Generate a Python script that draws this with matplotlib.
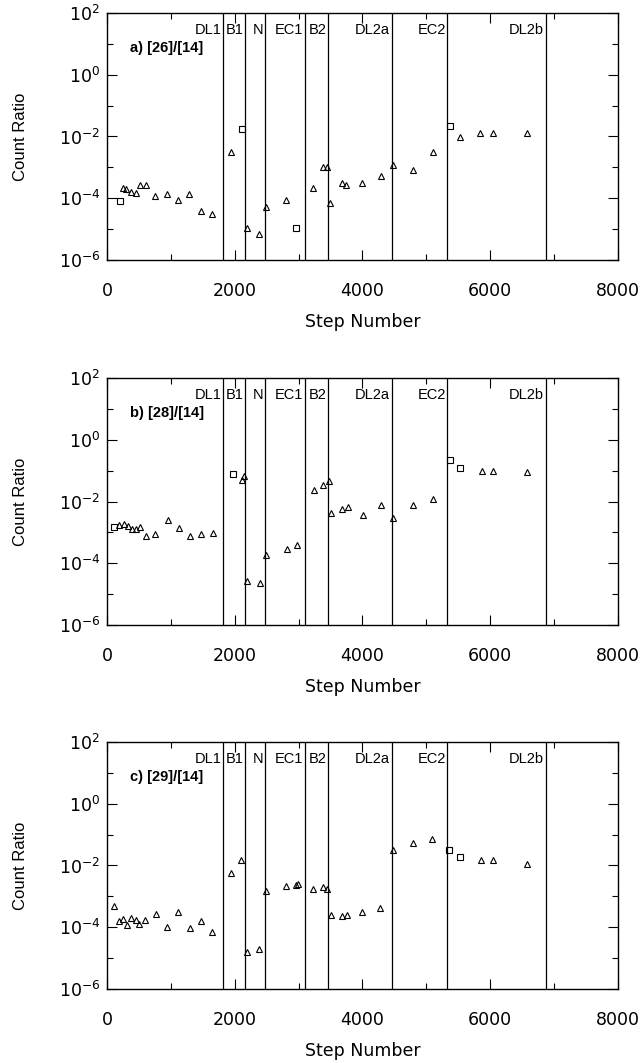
import numpy as np
import matplotlib.pyplot as plt
from matplotlib.ticker import FixedLocator, NullFormatter, LogFormatterSciNotation

# run segments and the step number where each one ends
regions = ["DL1", "B1", "N", "EC1", "B2", "DL2a", "EC2", "DL2b"]
bounds = [1820, 2160, 2470, 3095, 3465, 4455, 5330, 6870]

# a) [26]/[14]
a_tri_x = [250, 303, 381, 449, 511, 605, 756, 944, 1111, 1283, 1466, 1648,
           1946, 2186, 2384, 2483, 2801, 3229, 3375, 3448, 3495, 3678, 3745,
           3996, 4283, 4481, 4784, 5097, 5519, 5837, 6046, 6568]
a_tri_y = [2.1e-4, 1.95e-4, 1.6e-4, 1.45e-4, 2.6e-4, 2.6e-4, 1.15e-4, 1.4e-4,
           8.5e-5, 1.4e-4, 3.8e-5, 3.2e-5, 3.2e-3, 1.07e-5, 7.2e-6, 5.1e-5,
           8.9e-5, 2.1e-4, 1.05e-3, 1.05e-3, 7.2e-5, 3.2e-4, 2.7e-4, 3.1e-4,
           5.1e-4, 1.17e-3, 8.5e-4, 3.2e-3, 9.3e-3, 1.3e-2, 1.3e-2, 1.26e-2]
a_sq_x = [198, 2113, 2953, 5368]
a_sq_y = [8.1e-5, 1.7e-2, 1.07e-5, 2.2e-2]

# b) [28]/[14]
b_tri_x = [188, 266, 329, 392, 450, 512, 606, 758, 956, 1129, 1296, 1479, 1652,
           2107, 2147, 2194, 2393, 2483, 2812, 2973, 3240, 3386, 3470, 3511,
           3679, 3768, 4013, 4285, 4483, 4796, 5100, 5868, 6050, 6574]
b_tri_y = [1.7e-3, 1.86e-3, 1.6e-3, 1.3e-3, 1.3e-3, 1.5e-3, 7.6e-4, 8.7e-4,
           2.6e-3, 1.35e-3, 7.9e-4, 8.9e-4, 9.5e-4, 5.0e-2, 6.9e-2, 2.75e-5,
           2.3e-5, 1.8e-4, 3.0e-4, 4.0e-4, 2.4e-2, 3.4e-2, 4.6e-2, 4.4e-3,
           5.6e-3, 6.6e-3, 3.7e-3, 7.8e-3, 2.9e-3, 7.9e-3, 1.17e-2, 9.5e-2,
           9.5e-2, 8.9e-2]
b_sq_x = [110, 1965, 5371, 5528]
b_sq_y = [1.45e-3, 7.8e-2, 0.22, 0.123]

# c) [29]/[14]
c_tri_x = [110, 188, 251, 313, 381, 450, 502, 591, 773, 940, 1113, 1296, 1468,
           1641, 1939, 2096, 2190, 2387, 2487, 2806, 2965, 2985, 3224, 3375,
           3443, 3506, 3672, 3751, 3997, 4274, 4483, 4796, 5094, 5857, 6039,
           6572]
c_tri_y = [4.8e-4, 1.6e-4, 1.9e-4, 1.17e-4, 1.95e-4, 1.7e-4, 1.26e-4, 1.74e-4,
           2.6e-4, 1.02e-4, 3.1e-4, 9.8e-5, 1.6e-4, 6.9e-5, 5.8e-3, 1.55e-2,
           1.6e-5, 1.95e-5, 1.45e-3, 2.2e-3, 2.4e-3, 2.45e-3, 1.7e-3, 2.0e-3,
           1.74e-3, 2.45e-4, 2.3e-4, 2.45e-4, 3.2e-4, 4.3e-4, 3.2e-2, 5.5e-2,
           7.4e-2, 1.5e-2, 1.5e-2, 1.15e-2]
c_sq_x = [5360, 5527]
c_sq_y = [3.2e-2, 1.9e-2]

panels = [
    ("a) [26]/[14]", a_tri_x, a_tri_y, a_sq_x, a_sq_y, 0.7554),
    ("b) [28]/[14]", b_tri_x, b_tri_y, b_sq_x, b_sq_y, 0.4120),
    ("c) [29]/[14]", c_tri_x, c_tri_y, c_sq_x, c_sq_y, 0.0696),
]

LABEL_FONT = ["Liberation Sans", "DejaVu Sans"]

fig = plt.figure(figsize=(6.43, 10.63), dpi=100)

for title, tx, ty, sx, sy, bottom in panels:
    ax = fig.add_axes([0.1664, bottom, 0.7947, 0.2324])
    ax.set_yscale("log")
    ax.set_xlim(0, 8000)
    ax.set_ylim(1e-6, 1e2)

    for b in bounds:
        ax.axvline(b, color="k", lw=0.9)

    ax.plot(tx, ty, "^", ms=4.5, mfc="none", mec="k", mew=0.8, ls="none")
    ax.plot(sx, sy, "s", ms=4.3, mfc="none", mec="k", mew=0.8, ls="none")

    tr = ax.get_xaxis_transform()
    for name, b in zip(regions, bounds):
        ax.text(b - 25, 0.93, name, transform=tr, ha="right", va="center",
                fontsize=10.5, family=LABEL_FONT)
    ax.text(0.045, 0.86, title, transform=ax.transAxes, ha="left",
            va="center", fontsize=10.5, fontweight="bold", family=LABEL_FONT)

    # labelled decades every 10^2, plain ticks on the odd ones
    ax.yaxis.set_major_locator(FixedLocator([1e-6, 1e-4, 1e-2, 1e0, 1e2]))
    ax.yaxis.set_minor_locator(FixedLocator([1e-5, 1e-3, 1e-1, 1e1]))
    ax.yaxis.set_major_formatter(LogFormatterSciNotation())
    ax.yaxis.set_minor_formatter(NullFormatter())
    ax.xaxis.set_major_locator(FixedLocator([0, 2000, 4000, 6000, 8000]))
    ax.xaxis.set_minor_locator(FixedLocator([1000, 3000, 5000, 7000]))

    ax.tick_params(which="both", direction="in", top=True, right=True,
                   width=0.8, labelsize=12.5)
    ax.tick_params(which="major", length=7)
    ax.tick_params(which="minor", length=4)
    ax.tick_params(axis="x", which="major", pad=16)
    ax.tick_params(axis="y", which="major", pad=5)
    for sp in ax.spines.values():
        sp.set_linewidth(1.0)

    ax.set_xlabel("Step Number", fontsize=12.5)
    ax.xaxis.set_label_coords(0.5, -0.215)
    ax.set_ylabel("Count Ratio", fontsize=12, family=LABEL_FONT)
    ax.yaxis.label.set_va("center")
    ax.yaxis.set_label_coords(-0.17, 0.5)

fig.savefig("out.png", dpi=100)
